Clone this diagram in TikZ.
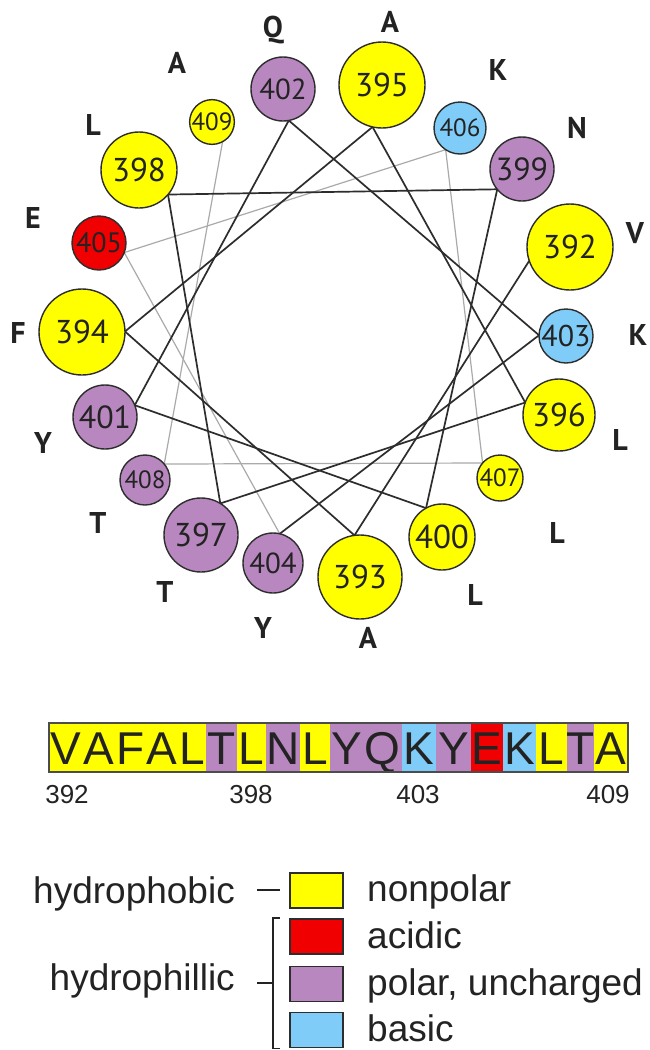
\documentclass[tikz,border=0pt]{standalone}
\usepackage{fontspec}
\setmainfont{Liberation Sans}
\newfontfamily\wheelfont{PT Sans}
\usetikzlibrary{calc}
\pgfdeclarelayer{bg}
\pgfsetlayers{bg,main}

\definecolor{cyel}{RGB}{255,255,0}
\definecolor{cpur}{RGB}{185,135,192}
\definecolor{cblu}{RGB}{128,204,248}
\definecolor{cred}{RGB}{240,0,0}
\definecolor{edgec}{RGB}{45,45,45}
\definecolor{inkc}{RGB}{35,35,35}
\definecolor{bondc}{RGB}{45,45,45}
\definecolor{faintc}{RGB}{170,170,170}

\tikzset{
  res/.style={circle, draw=edgec, line width=1.4pt, inner sep=0pt, text=inkc},
  reslab/.style={font={\wheelfont\bfseries\fontsize{30pt}{30pt}\selectfont}, text=inkc,
                 inner sep=0pt, text height=21pt, text depth=0pt},
  bond/.style={draw=bondc, line width=1.7pt},
  faint/.style={draw=faintc, line width=1.2pt},
  cell/.style={inner sep=0pt, minimum height=49pt, text height=33pt, text depth=0pt,
               font={\fontsize{46pt}{46pt}\selectfont}, text=inkc},
  seqnum/.style={inner sep=0pt, text height=18.6pt, text depth=0pt,
               font={\fontsize{26pt}{26pt}\selectfont}, text=inkc},
  legbox/.style={draw=edgec, line width=1.2pt, minimum width=53pt, minimum height=35pt, inner sep=0pt},
  legtext/.style={inner sep=0pt, font={\fontsize{37pt}{37pt}\selectfont}, text=inkc},
  brk/.style={draw=inkc, line width=1.5pt}
}

\begin{document}
\begin{tikzpicture}[x=1pt,y=-1pt]
\useasboundingbox (0,0) rectangle (650,1050);
\begin{pgfonlayer}{bg}
\fill[white] (0,0) rectangle (650,1050);
\end{pgfonlayer}

\coordinate (C) at (327,329);

% helical wheel residues
\foreach \n/\x/\y/\r/\c/\fs/\L/\lx/\ly in {
  392/570/247/43/cyel/33/V/635/233,
  393/360/577/42/cyel/33/A/368/638,
  394/82/332/43/cyel/33/F/18/333,
  395/382/85/43/cyel/33/A/390/22,
  396/559/415/36/cyel/33/L/620/440,
  397/201/535/37/cpur/33/T/165/592,
  398/139/170/38/cyel/33/L/93/125,
  399/522/169/32/cpur/32/N/577/128,
  400/442/537/33/cyel/33/L/475/595,
  401/105/417/32/cpur/32/Y/43/443,
  402/283/89/32/cpur/29/Q/273/27,
  403/566/336/27/cblu/30/K/638/335,
  404/273/563/30/cpur/29/Y/263/628,
  405/99/243/27/cred/28/E/33/218,
  406/460/128/26/cblu/25/K/498/70,
  407/500/478/23/cyel/25/L/557/533,
  408/145/480/25/cpur/25/T/98/523,
  409/212/122/22/cyel/25/A/177/63}
{
  \node[res, fill=\c, minimum size={2*\r*1pt},
        font={\wheelfont\fontsize{\fs pt}{\fs pt}\selectfont}] (n\n) at (\x,\y) {\n};
  \coordinate (i\n) at ($(n\n)!\r pt!(C)$);
  \node[reslab] (l\n) at (\lx,\ly) {\L};
}

\begin{pgfonlayer}{bg}
  \foreach \a/\b in {404/405,405/406,406/407,407/408,408/409}
    \draw[faint] (i\a) -- (i\b);
  \foreach \a/\b in {392/393,393/394,394/395,395/396,396/397,397/398,398/399,
                     399/400,400/401,401/402,402/403,403/404}
    \draw[bond] (i\a) -- (i\b);
\end{pgfonlayer}

% sequence bar
\foreach \xa/\xb/\L/\c [count=\i] in {
  49/82.1/V/cyel, 82.1/115.2/A/cyel, 115.2/145.5/F/cyel, 145.5/178.6/A/cyel,
  178.6/206/L/cyel, 206/237/T/cpur, 237/266.5/L/cyel, 266.5/300.5/N/cpur,
  300.5/330.5/L/cyel, 330.5/363.5/Y/cpur, 363.5/402/Q/cpur, 402/436/K/cblu,
  436/471/Y/cpur, 471/503/E/cred, 503/536.5/K/cblu, 536.5/567/L/cyel,
  567/594.5/T/cpur, 594.5/628/A/cyel}
{
  \node[cell, fill=\c, minimum width={(\xb-\xa+0.4)*1pt}] (cell\i) at ({(\xa+\xb)/2},747.5) {\L};
}
\node[draw=edgec!85, line width=1.2pt, minimum width=579pt, minimum height=49pt, inner sep=0pt]
  (bar) at (338.5,747.5) {};

\node[seqnum] (s392) at (67,794) {392};
\node[seqnum] (s398) at (251,794) {398};
\node[seqnum] (s403) at (418,794) {403};
\node[seqnum] (s409) at (608,794) {409};

% legend
\node[legbox, fill=cyel] (bY) at (316.5,890.5) {};
\node[legbox, fill=cred] (bR) at (316.5,936.5) {};
\node[legbox, fill=cpur] (bP) at (316.5,984) {};
\node[legbox, fill=cblu] (bB) at (316.5,1030) {};

\node[legtext, anchor=base west] (tnon) at (367,901) {nonpolar};
\node[legtext, anchor=base west] (tacid) at (367,948) {acidic};
\node[legtext, anchor=base west] (tpol) at (367,995) {polar, uncharged};
\node[legtext, anchor=base west] (tbas) at (367,1041) {basic};

\node[legtext, anchor=base east] (thphob) at (235,903) {hydrophobic};
\node[legtext, anchor=base east] (thphil) at (235,990) {hydrophillic};

\coordinate (d1a) at (257,890);
\coordinate (d1b) at (280,890);
\draw[brk] (d1a) -- (d1b);
\coordinate (bt) at (280,918);
\coordinate (bbm) at (280,1048.5);
\draw[brk] (bt) -- (273,918) -- (273,1048.5) -- (bbm);
\coordinate (d2a) at (257,983);
\coordinate (d2b) at (273,983);
\draw[brk] (d2a) -- (d2b);
\end{tikzpicture}
\end{document}
